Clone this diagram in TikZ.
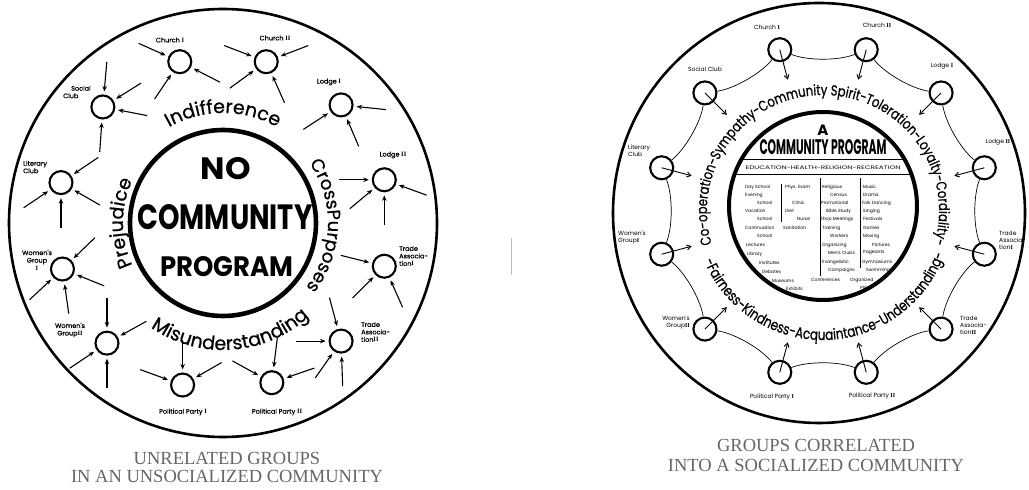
\documentclass[tikz,border=0pt]{standalone}
\usepackage{fontspec}
\setmainfont{Liberation Serif}
\newfontfamily\geo{Poppins}
\newfontfamily\geomed[FakeBold=0.7]{Poppins}
\newfontfamily\geonarrow[FakeStretch=0.8,FakeBold=0.6]{Poppins}
\usetikzlibrary{arrows.meta,calc,decorations.text}
\newcommand\rn[1]{{\rmfamily\bfseries#1}}

\begin{document}
\begin{tikzpicture}[
  x=1pt, y=1pt,
  club/.style={circle, draw, line width=2.1pt, minimum size=23pt, inner sep=0pt},
  pull in/.style={-{Stealth[length=5.5pt,width=4.5pt]}, line width=1.1pt, shorten >=3pt},
  reach out/.style={-{Straight Barb[length=4pt,width=5pt]}, line width=0.9pt},
  scallop/.style={line width=0.7pt},
  tag/.style={font=\geomed\fontsize{6.5}{7.5}\selectfont, inner sep=0pt, align=center},
  thin tag/.style={font=\geo\fontsize{6}{7}\selectfont, inner sep=0pt, align=center},
  cell/.style={font=\geo\fontsize{4.5}{5}\selectfont, inner sep=0pt, anchor=west},
  caption/.style={font=\fontsize{18.5}{19}\selectfont, text=black!60, anchor=base, inner sep=0pt}
]
  \useasboundingbox (0,0) rectangle (1029,490);
  \coordinate (cl) at (223,267);
  \coordinate (cr) at (823,279);

  % ---- left: unrelated groups
  \draw[line width=2.6pt] (cl) circle[radius=214];
  \draw[line width=4.6pt] (cl) circle[radius=93];
  \node[anchor=base] (no) at (226,310) {\resizebox{50pt}{22pt}{\geo\bfseries NO}};
  \node[anchor=base] (comm) at (225,260) {\resizebox{175pt}{25pt}{\geo\bfseries COMMUNITY}};
  \node[anchor=base] (prog) at (227,213) {\resizebox{133pt}{20pt}{\geo\bfseries PROGRAM}};

  \path[decorate, decoration={text along path, text align=center,
      text={|\geomed\fontsize{19}{19}\selectfont|Indifference}}]
    ($(cl)+(130:110)$) arc[start angle=130, end angle=50, radius=110];
  \path[decorate, decoration={text along path, text align=center,
      text={|\geomed\fontsize{18}{18}\selectfont|CrossPurposes}}]
    ($(cl)+(45:105)$) arc[start angle=45, end angle=-48, radius=105];
  \path[decorate, decoration={text along path, text align=center,
      text={|\geomed\fontsize{19}{19}\selectfont|Prejudice}}]
    ($(cl)+(220:100)$) arc[start angle=220, end angle=140, radius=100];
  \path[decorate, decoration={text along path, text align=center,
      text={|\geomed\fontsize{19}{19}\selectfont|Misunderstanding}}]
    ($(cl)+(218:127)$) arc[start angle=218, end angle=330, radius=127];

  \foreach \n/\a in {lch1/105, lch2/75, llo1/45, llo2/15, ltr1/-15, ltr2/-45,
                     lpp2/-73, lpp1/-104, lwg2/-134, lwg1/-164, lli/166, lsc/136}
    \node[club] (\n) at ($(cl)+(\a:167)$) {};

  \foreach \n/\a in {lch1/156, lch1/-27, lch1/-124,
                     lsc/85, lsc/32, lsc/-11, lsc/-94,
                     lli/34, lli/214, lli/-90, lli/-30,
                     lch2/159, lch2/21, lch2/216, lch2/-66,
                     llo1/-6, llo1/213, llo1/-67,
                     llo2/180, llo2/-20, llo2/220, llo2/-90,
                     ltr1/166, ltr1/225, ltr1/-66,
                     ltr2/105, ltr2/180, ltr2/235, ltr2/-88,
                     lpp2/83, lpp2/19, lpp2/151,
                     lpp1/160, lpp1/90, lpp1/30,
                     lwg2/90, lwg2/29, lwg2/214, lwg2/-90,
                     lwg1/44, lwg1/223, lwg1/-82, lwg1/-22} {
    \path (\n) ++(\a:45) coordinate (tail);
    \draw[pull in] (tail) -- (\n);
  }

  \node[tag] (tch1) at (170,450) {Church \rn{I}};
  \node[tag] (tch2) at (275,452) {Church \rn{II}};
  \node[tag, anchor=west, align=left] (tsc) at (63,398) {\hspace*{8pt}Social\\Club};
  \node[tag, anchor=west, align=left] (tli) at (23,323) {Literary\\Club};
  \node[tag] (tlo1) at (329,408) {Lodge \rn{I}};
  \node[tag] (tlo2) at (393,335) {Lodge \rn{II}};
  \node[tag] (twg1) at (37,230) {Women's\\Group\\\rn{I}};
  \node[tag] (twg2) at (70,160) {Women's\\Group\rn{II}};
  \node[tag, anchor=west, align=left] (ttr1) at (399,234) {Trade\\Associa-\\tion\rn{I}};
  \node[tag, anchor=west, align=left] (ttr2) at (361,158) {Trade\\Associa-\\tion\rn{II}};
  \node[tag] (tpp1) at (183,78) {Political Party \rn{I}};
  \node[tag] (tpp2) at (277,78) {Political Party \rn{II}};

  \node[caption] (capl1) at (227,25) {UNRELATED GROUPS};
  \node[caption] (capl2) at (227,7) {IN AN UNSOCIALIZED COMMUNITY};

  \draw[black!25, line width=0.6pt] (511,215) -- (511,252);

  % ---- right: correlated groups
  \draw[line width=2.6pt] (819,277) ellipse[x radius=206, y radius=210];
  \draw[line width=4pt] (823,284) circle[radius=94];

  \node[font=\geo\bfseries\fontsize{15}{15}\selectfont] (a) at (823,360) {A};
  \node[anchor=base] (title) at (823,335) {\resizebox{127pt}{15pt}{\geo\bfseries COMMUNITY PROGRAM}};
  \draw[line width=1pt] (741,330) -- (905,330);
  \node (head) at (823,322) {\resizebox{155pt}{3.6pt}{\geo EDUCATION-HEALTH-RELIGION-RECREATION}};
  \draw[line width=0.6pt] (735,316) -- (911,316);
  \draw[line width=0.6pt] (781,306) -- (781,268);
  \draw[line width=0.6pt] (820,312) -- (820,214);
  \draw[line width=0.6pt] (860,312) -- (860,222);

  \foreach \t/\x/\y [count=\i] in {Day School/745/187, Evening/745/195, School/757/203,
      Vacation/745/211, School/757/219, Continuation/745/228, School/757/236,
      Lectures/746/245, Library/747/254, Institutes/759/263, Debates/762/272,
      Museums/772/281, Exhibits/786/289,
      Phys. Exam/785/187, Clinic/792/203, Diet/785/211, Nurse/797/219, Sanitation/783/228,
      Religious/822/187, Census/830/195, Promotional/821/203, Bible Study/826/211,
      Shop Meetings/820/219, Training/822/228, Workers/830/236, Organizing/822/245,
      Men's Clubs/828/253, Evangelistic/822/262, Campaigns/828/270, Conferences/811/280,
      Music/863/187, Drama/863/195, Folk Dancing/862/203, Singing/863/211,
      Festivals/863/219, Games/863/228, Moving/863/236, Pictures/872/245,
      Pageants/863/253, Gymnasiums/862/262, Swimming/866/270, Organized/850/280, Play/860/288}
    \node[cell] (cell\i) at (\x,490-\y) {\t};

  \path[decorate, decoration={text along path, text align=center,
      text={|\geonarrow\fontsize{14.5}{14.5}\selectfont|Co-operation-Sympathy-Community Spirit-Toleration-Loyalty-Cordiality-}}]
    ($(cr)+(200:116)$) arc[start angle=200, end angle=-20, radius=116];
  \path[decorate, decoration={text along path, text align=center,
      text={|\geonarrow\fontsize{15}{15}\selectfont|-Fairness-Kindness-Acquaintance-Understanding-}}]
    ($(cr)+(198:129)$) arc[start angle=198, end angle=345, radius=129];

  \foreach \n/\a in {rch1/105, rch2/75, rlo1/45, rlo2/15, rtr1/-15, rtr2/-45,
                     rpp2/-75, rpp1/-105, rwg2/-135, rwg1/-165, rli/165, rsc/135} {
    \node[club] (\n) at ($(cr)+(\a:167)$) {};
    \path (\n) ++(\a+180:31) coordinate (tip\n);
    \draw[reach out] (\n.center) -- (tip\n);
  }
  \foreach \p/\q/\a in {rch1/rch2/105, rch2/rlo1/75, rlo1/rlo2/45, rlo2/rtr1/15,
                        rtr1/rtr2/-15, rtr2/rpp2/-45, rpp2/rpp1/-75, rpp1/rwg2/-105,
                        rwg2/rwg1/-135, rwg1/rli/-165, rli/rsc/165, rsc/rch1/135}
    \draw[scallop] (\p) .. controls ($(cr)+(\a-9:151)$) and ($(cr)+(\a-21:151)$) .. (\q);

  \node[thin tag] (uch1) at (767,463) {Church \rn{I}};
  \node[thin tag] (uch2) at (877,465) {Church \rn{II}};
  \node[thin tag] (usc) at (705,421) {Social Club};
  \node[thin tag] (ulo1) at (942,424) {Lodge \rn{I}};
  \node[thin tag, anchor=west, align=left] (uli) at (628,339) {Literary\\Club};
  \node[thin tag] (ulo2) at (998,348) {Lodge \rn{II}};
  \node[thin tag, anchor=west, align=left] (uwg1) at (618,253) {Women's\\Group\rn{I}};
  \node[thin tag, anchor=west, align=left] (utr1) at (999,250) {Trade\\Associa-\\tion\rn{I}};
  \node[thin tag, anchor=west, align=left] (utr2) at (960,165) {Trade\\Associa-\\tion\rn{II}};
  \node[thin tag, anchor=east, align=right] (uwg2) at (690,168) {Women's\\Group\rn{II}};
  \node[thin tag] (upp1) at (772,93) {Political Party \rn{I}};
  \node[thin tag] (upp2) at (872,94) {Political Party \rn{II}};

  \node[caption] (capr1) at (816,38) {GROUPS CORRELATED};
  \node[caption] (capr2) at (816,18) {INTO A SOCIALIZED COMMUNITY};
\end{tikzpicture}
\end{document}
